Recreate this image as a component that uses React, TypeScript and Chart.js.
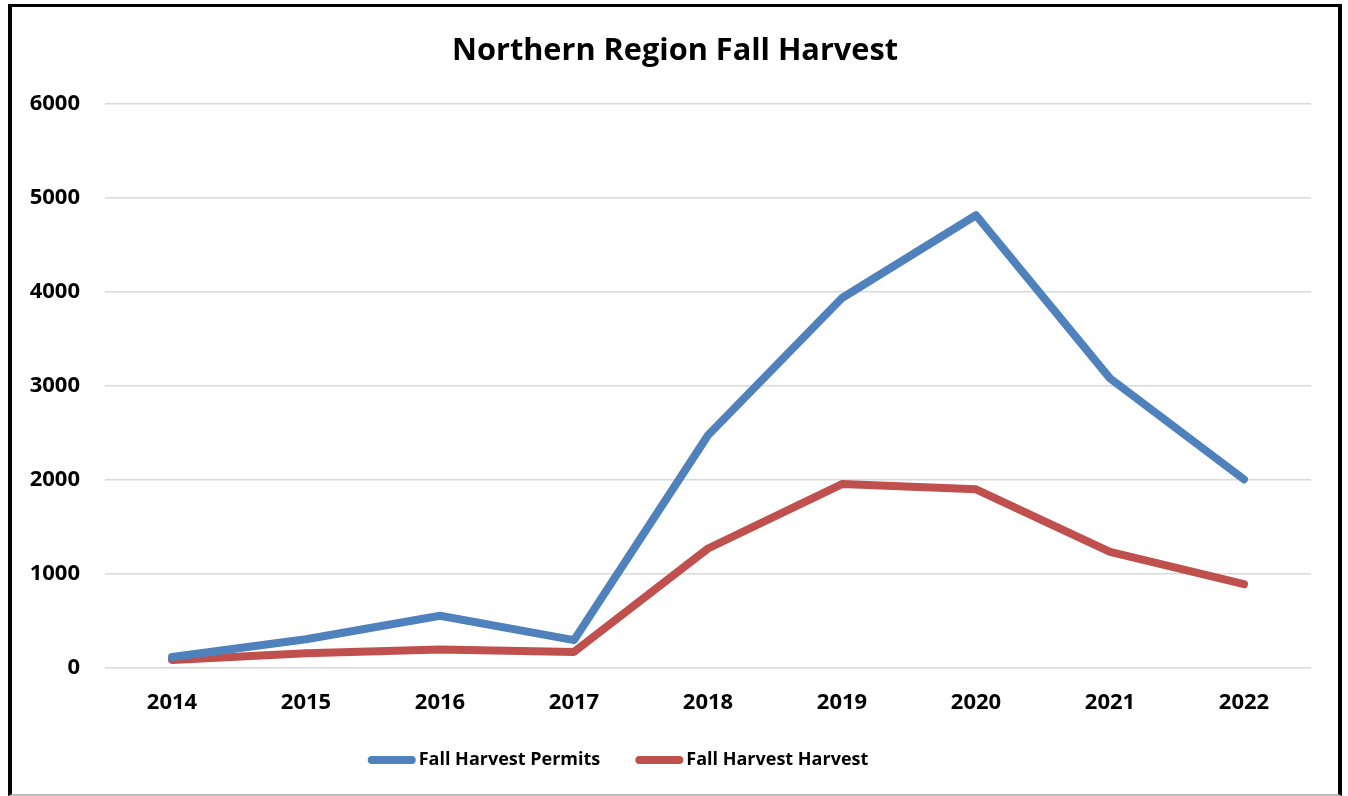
import React, { useEffect, useRef } from "react";
import { Chart, registerables } from "chart.js";

Chart.register(...registerables);

const years = ["2014", "2015", "2016", "2017", "2018", "2019", "2020", "2021", "2022"];
const permits = [110, 300, 550, 290, 2470, 3930, 4810, 3075, 2000];
const harvest = [80, 150, 190, 165, 1265, 1950, 1895, 1230, 885];
const seriesNames = ["Fall Harvest Permits", "Fall Harvest Harvest"];
const titleText = "Northern Region Fall Harvest";

const BLUE = "#4F81BD";
const RED = "#C0504D";
const FONT = "'Open Sans', 'DejaVu Sans', sans-serif";

// Title centred on the whole frame, and legend with the sample line hugging its text
const decorPlugin = {
  id: "decor",
  afterDraw(chart: any) {
    const ctx = chart.ctx as CanvasRenderingContext2D;
    ctx.save();
    // title
    ctx.font = `bold 30.7px ${FONT}`;
    ctx.fillStyle = "#000";
    ctx.textAlign = "center";
    ctx.textBaseline = "middle";
    ctx.fillText(titleText, chart.width / 2, 44);

    // legend
    const lineW = 48;
    const gap = 3;
    const itemGap = 35;
    const y = 753;
    const centerX = 606;
    ctx.font = `bold 18px ${FONT}`;
    const items = chart.data.datasets.map((ds: any) => ({
      text: ds.label as string,
      color: ds.borderColor as string,
      w: ctx.measureText(ds.label).width,
    }));
    const total =
      items.reduce((a: number, it: any) => a + lineW + gap + it.w, 0) + itemGap * (items.length - 1);
    let x = centerX - total / 2;
    for (const it of items) {
      ctx.strokeStyle = it.color;
      ctx.lineWidth = 8;
      ctx.lineCap = "round";
      ctx.beginPath();
      ctx.moveTo(x + 4, y);
      ctx.lineTo(x + lineW - 4, y);
      ctx.stroke();
      ctx.fillStyle = "#000";
      ctx.textBaseline = "middle";
      ctx.textAlign = "left";
      ctx.fillText(it.text, x + lineW + gap, y);
      x += lineW + gap + it.w + itemGap;
    }
    ctx.restore();
  },
};

export default function App() {
  const ref = useRef<HTMLCanvasElement | null>(null);

  useEffect(() => {
    if (!ref.current) return;
    const chart = new Chart(ref.current, {
      type: "line",
      data: {
        labels: years,
        datasets: [
          {
            label: seriesNames[0],
            data: permits,
            borderColor: BLUE,
            backgroundColor: BLUE,
            borderWidth: 8,
            pointRadius: 0,
            tension: 0,
            borderCapStyle: "round",
            borderJoinStyle: "round",
          },
          {
            label: seriesNames[1],
            data: harvest,
            borderColor: RED,
            backgroundColor: RED,
            borderWidth: 8,
            pointRadius: 0,
            tension: 0,
            borderCapStyle: "round",
            borderJoinStyle: "round",
          },
        ],
      },
      options: {
        animation: false,
        responsive: false,
        maintainAspectRatio: false,
        layout: { padding: { left: 0, right: 27, top: 96.4, bottom: 55.2 } },
        plugins: {
          title: { display: false },
          legend: { display: false },
          tooltip: { enabled: false },
        },
        scales: {
          x: {
            offset: true,
            grid: { display: false, drawTicks: false },
            border: { display: false },
            ticks: {
              color: "#000",
              font: { family: FONT, size: 22, weight: "bold" },
              padding: 22,
              maxRotation: 0,
            },
          },
          y: {
            min: 0,
            max: 6000,
            afterFit: (s: any) => {
              s.width = 93;
            },
            grid: { color: "#D9D9D9", lineWidth: 1.5, drawTicks: false },
            border: { display: false },
            ticks: {
              stepSize: 1000,
              color: "#000",
              font: { family: FONT, size: 22, weight: "bold" },
              padding: 25,
              callback: (v: any) => String(v),
            },
          },
        },
      },
      plugins: [decorPlugin],
    });
    return () => chart.destroy();
  }, []);

  return (
    <div
      style={{
        position: "fixed",
        left: 0,
        top: 0,
        width: 1348,
        height: 796,
        background: "#fff",
      }}
    >
      <div
        style={{
          position: "absolute",
          left: 8,
          top: 4,
          width: 1326,
          height: 787,
          borderLeft: "4px solid #000",
          borderRight: "4px solid #000",
          borderTop: "3px solid #000",
          borderBottom: "2px solid #bbb",
        }}
      >
        <canvas ref={ref} width={1326} height={786} style={{ display: "block" }} />
      </div>
    </div>
  );
}
